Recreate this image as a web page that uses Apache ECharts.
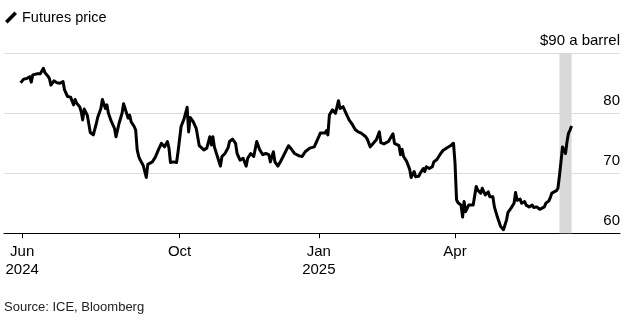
<!DOCTYPE html>
<html>
<head>
<meta charset="utf-8">
<script src="https://cdn.jsdelivr.net/npm/echarts@6/dist/echarts.min.js"></script>
<style>
  html, body { margin: 0; padding: 0; background: #fff; }
  #chart { width: 630px; height: 336px; }
</style>
</head>
<body>
<div id="chart"></div>
<script>
// Calendar days counted from the first session, 2024-06-18
const tradingDays = [
  0, 2, 3, 4, 6, 7, 8, 11, 13, 14,
  15, 16, 18, 19, 20, 22, 24, 26, 27, 28,
  29, 30, 31, 33, 34, 35, 36, 37, 39, 40,
  41, 42, 44, 45, 46, 48, 49, 50, 51, 53,
  54, 56, 57, 58, 60, 62, 63, 65, 67, 68,
  70, 71, 72, 73, 75, 76, 77, 78, 79, 81,
  83, 84, 87, 89, 91, 93, 95, 97, 98, 99,
  101, 103, 104, 105, 106, 108, 110, 111, 112, 114,
  116, 118, 119, 121, 123, 125, 126, 127, 128, 130,
  132, 133, 135, 137, 138, 140, 142, 143, 145, 147,
  149, 150, 152, 154, 156, 158, 160, 162, 164, 165,
  167, 168, 170, 172, 174, 177, 179, 181, 184, 186,
  188, 189, 191, 194, 197, 198, 201, 202, 203, 204,
  206, 207, 208, 210, 211, 213, 215, 217, 219, 221,
  223, 225, 228, 229, 231, 233, 235, 237, 238, 240,
  243, 244, 246, 247, 250, 251, 252, 253, 255, 257,
  258, 260, 261, 263, 264, 266, 267, 268, 270, 272,
  273, 275, 277, 279, 280, 282, 284, 286, 287, 288,
  289, 291, 292, 293, 294, 296, 297, 299, 301, 302,
  303, 304, 305, 307, 309, 310, 312, 313, 315, 317,
  319, 320, 321, 322, 324, 326, 327, 328, 330, 331,
  333, 334, 336, 338, 339, 341, 343, 344, 346, 347,
  349, 350, 351, 352, 354, 355, 356, 357, 358, 359,
  360, 361, 362, 363, 364
];

// Futures settlement price, $ a barrel
const futuresPrice = [
  85.1, 85.7, 85.4, 85.8, 86.1, 85.2, 86.4, 86.6, 86.6, 86.4,
  87.5, 86.8, 86.2, 85.8, 84.7, 85.4, 85.1, 85.0, 84.7, 85.3,
  83.9, 84.2, 82.8, 82.7, 82.5, 81.4, 82.3, 81.7, 81.1, 80.3,
  78.9, 80.7, 79.7, 78.3, 76.8, 76.4, 76.4, 78.3, 79.4, 80.8,
  82.3, 80.8, 81.4, 80.0, 78.6, 77.5, 76.1, 78.3, 80.0, 81.6,
  80.0, 79.2, 79.7, 78.6, 77.8, 77.2, 73.9, 72.8, 72.2, 71.3,
  69.3, 71.5, 71.9, 72.7, 73.9, 75.0, 74.4, 75.3, 74.2, 71.8,
  71.9, 71.8, 73.6, 73.9, 77.8, 79.1, 81.0, 76.9, 79.3, 78.6,
  77.5, 74.6, 74.4, 73.9, 74.2, 76.1, 74.7, 76.1, 74.4, 72.8,
  71.2, 72.8, 73.3, 74.2, 75.3, 75.7, 75.0, 73.3, 72.2, 72.5,
  71.2, 72.5, 73.3, 72.8, 75.3, 73.9, 73.1, 73.3, 73.1, 71.9,
  73.6, 71.9, 71.2, 72.1, 73.1, 74.6, 74.0, 73.3, 72.9, 72.8,
  73.6, 73.3, 74.2, 74.4, 76.1, 76.7, 76.7, 77.1, 76.4, 79.7,
  80.6, 80.8, 80.0, 82.1, 80.8, 81.1, 80.0, 78.9, 78.2, 77.3,
  76.9, 76.7, 76.1, 75.7, 74.4, 75.0, 75.6, 76.9, 75.1, 74.9,
  75.3, 75.6, 76.6, 75.0, 74.6, 73.1, 74.0, 72.8, 72.0, 70.7,
  69.3, 70.3, 69.4, 69.5, 70.0, 70.8, 70.3, 71.1, 70.8, 71.1,
  71.9, 72.3, 73.1, 73.8, 73.6, 74.3, 74.6, 75.0, 71.7, 65.6,
  65.1, 64.7, 62.7, 65.3, 63.6, 64.7, 64.7, 64.7, 67.8, 67.2,
  67.3, 66.7, 67.5, 66.4, 66.9, 66.1, 66.1, 64.4, 62.7, 61.2,
  60.6, 60.5, 62.2, 63.5, 64.2, 65.0, 66.8, 65.5, 65.7, 65.0,
  65.3, 64.7, 64.4, 64.7, 64.3, 64.4, 64.0, 64.2, 64.4, 65.0,
  65.4, 66.0, 66.7, 66.9, 67.1, 67.5, 69.6, 71.9, 74.4, 74.2,
  73.3, 75.3, 76.7, 77.2, 77.9
];

// Month ticks
const tickDates = ['2024-06-19', '2024-10-01', '2025-01-01', '2025-04-01'];
const tickLabels = ['Jun\n2024', 'Oct', 'Jan\n2025', 'Apr'];

// Shaded window and axis extent, in days from the first session
const bandDays = [356, 364];
const axisDays = [-11, 396];

const DAY = 86400000;
const firstSession = Date.UTC(2024, 5, 18);
const dayOf = s => {
  const p = s.split('-').map(Number);
  return Math.round((Date.UTC(p[0], p[1] - 1, p[2]) - firstSession) / DAY);
};
const tickDays = tickDates.map(dayOf);

const labelFor = v => {
  let best = 0;
  for (let i = 1; i < tickDays.length; i++) {
    if (Math.abs(tickDays[i] - v) < Math.abs(tickDays[best] - v)) best = i;
  }
  return tickLabels[best];
};

const seriesData = tradingDays.map((d, i) => [d, futuresPrice[i]]);

const FONT = '"Liberation Sans", Arial, Helvetica, sans-serif';

const chart = echarts.init(document.getElementById('chart'), null, { renderer: 'canvas' });
chart.setOption({
  animation: false,
  backgroundColor: '#fff',
  textStyle: { fontFamily: FONT },
  legend: {
    left: 5,
    top: 10,
    padding: 0,
    itemWidth: 12,
    itemHeight: 12,
    textStyle: { fontSize: 14.5, color: '#000', fontFamily: FONT },
    data: [{ name: 'Futures price', icon: 'path://M0,9.4L9.4,0L12,2.6L2.6,12Z' }]
  },
  graphic: [{
    type: 'text',
    left: 4,
    top: 301,
    style: { text: 'Source: ICE, Bloomberg', font: '13px ' + FONT, fill: '#222' }
  }],
  grid: { left: 4, right: 10, top: 53.3, bottom: 102.7 },
  xAxis: {
    type: 'value',
    min: axisDays[0],
    max: axisDays[1],
    axisLine: { lineStyle: { color: '#000', width: 1 } },
    axisTick: { customValues: tickDays, length: 5, lineStyle: { color: '#000' } },
    axisLabel: {
      customValues: tickDays,
      formatter: v => labelFor(v),
      fontSize: 15,
      lineHeight: 18,
      color: '#000',
      margin: 10,
      fontFamily: FONT
    },
    splitLine: { show: false }
  },
  yAxis: {
    type: 'value',
    position: 'right',
    min: 60,
    max: 90,
    interval: 10,
    axisLine: { show: false },
    axisTick: { show: false },
    splitLine: { lineStyle: { color: '#dcdcdc', width: 1 } },
    axisLabel: {
      inside: true,
      margin: 0,
      verticalAlign: 'bottom',
      padding: [0, 0, 5, 0],
      fontSize: 15,
      color: '#000',
      fontFamily: FONT,
      formatter: v => (v === 90 ? '$90 a barrel' : String(v))
    }
  },
  series: [{
    name: 'Futures price',
    type: 'line',
    data: seriesData,
    showSymbol: false,
    symbol: 'none',
    itemStyle: { color: '#000' },
    lineStyle: { color: '#000', width: 3, join: 'round' },
    markArea: {
      silent: true,
      itemStyle: { color: '#d9d9d9' },
      data: [[{ xAxis: bandDays[0] }, { xAxis: bandDays[1] }]]
    }
  }]
});
</script>
</body>
</html>
